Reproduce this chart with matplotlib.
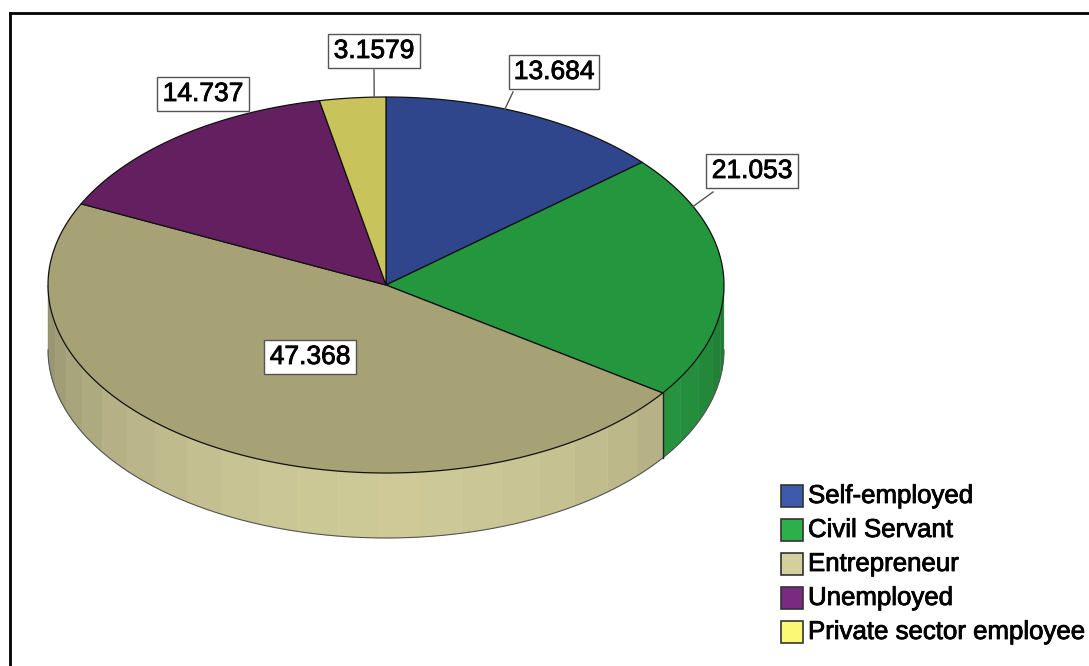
import numpy as np
import matplotlib.pyplot as plt
import matplotlib.patheffects as pe
from matplotlib.patches import Polygon, Rectangle
from matplotlib.colors import to_rgb

plt.rcParams['font.family'] = ['Liberation Sans', 'DejaVu Sans']

# Employment status shares (%)
categories = ["Self-employed", "Civil Servant", "Entrepreneur", "Unemployed",
              "Private sector employee"]
percents = [13.684, 21.053, 47.368, 14.737, 3.1579]
labels = ["13.684", "21.053", "47.368", "14.737", "3.1579"]

top_colors = ["#2F458C", "#24963E", "#A6A276", "#631F60", "#C8C35A"]
legend_colors = ["#3D5AAB", "#2DB04A", "#D4CF9C", "#7A2A80", "#FDF873"]

# pie geometry in pixel units
cx, cy = 386, 285
rx, ry = 338, 188
depth = 65

fig = plt.figure(figsize=(10.89, 6.66), dpi=100)
ax = fig.add_axes([0, 0, 1, 1])
ax.set_xlim(0, 1089)
ax.set_ylim(666, 0)
ax.axis("off")

heavy = [pe.withStroke(linewidth=0.6, foreground="black")]


def rim(t_deg):
    t = np.radians(t_deg)
    return cx + rx * np.cos(t), cy - ry * np.sin(t)


# wedge boundaries, clockwise from 12 o'clock
spans = np.array(percents) / sum(percents) * 360
starts = 90 - np.concatenate([[0], np.cumsum(spans)[:-1]])
ends = starts - spans

# side walls (only the front half is visible)
for s, e, col in zip(starts, ends, legend_colors):
    base = np.array(to_rgb(col))
    edges = np.arange(s, e, -7.0)
    edges = np.append(edges, e)
    for a0, a1 in zip(edges[:-1], edges[1:]):
        lo, hi = min(a0, a1), max(a0, a1)
        lo_n, hi_n = lo % 360, hi % 360
        if hi_n == 0:
            hi_n = 360
        if hi_n < lo_n:
            continue
        lo_c, hi_c = max(lo_n, 180), min(hi_n, 360)
        if hi_c <= lo_c:
            continue
        tt = np.linspace(lo_c, hi_c, 10)
        x, y = rim(tt)
        pts = np.column_stack([np.concatenate([x, x[::-1]]),
                               np.concatenate([y, (y + depth)[::-1]])])
        mid = np.radians((lo_c + hi_c) / 2)
        f = 0.68 + 0.29 * np.cos(mid - np.radians(270))
        c = np.clip(base * f, 0, 1)
        ax.add_patch(Polygon(pts, closed=True, facecolor=c, edgecolor=c,
                             linewidth=0.3, zorder=1))

# outline of the side bottom
tt = np.linspace(180, 360, 200)
x, y = rim(tt)
ax.plot(x, y + depth, color="#555555", linewidth=0.8, zorder=2)

# vertical seams where a wedge boundary falls on the front
for b in starts:
    bn = b % 360
    if 180 < bn < 360:
        x0, y0 = rim(bn)
        ax.plot([x0, x0], [y0, y0 + depth], color="#222222", linewidth=1.0,
                zorder=2)

# top face wedges
for s, e, col in zip(starts, ends, top_colors):
    tt = np.linspace(s, e, 120)
    x, y = rim(tt)
    pts = np.column_stack([np.concatenate([[cx], x]), np.concatenate([[cy], y])])
    ax.add_patch(Polygon(pts, closed=True, facecolor=col, edgecolor="#111111",
                         linewidth=0.9, zorder=3))

# value labels in boxes with leader lines
label_pos = [(554, 72), (752, 171), (310, 357), (203, 94), (374, 51)]
leader_angle = [69.4, 24.7, None, None, 92.0]
leader_from = [(513, 92), (713, 192), None, None, (374, 70)]
for txt, (lx, ly), la, lf in zip(labels, label_pos, leader_angle, leader_from):
    if la is not None:
        ex, ey = rim(la)
        ax.plot([lf[0], ex], [lf[1], ey], color="#555555", linewidth=1.0,
                zorder=4)
    t = ax.text(lx, ly, txt, fontsize=19, ha="center", va="center", zorder=5,
                bbox=dict(boxstyle="square,pad=0.2", facecolor="white",
                          edgecolor="#555555", linewidth=1.0))
    t.set_path_effects(heavy)

# legend
leg_x, leg_y0, leg_dy = 781, 496, 34
for i, (name, col) in enumerate(zip(categories, legend_colors)):
    yy = leg_y0 + i * leg_dy
    ax.add_patch(Rectangle((leg_x, yy - 11), 22, 22, facecolor=col,
                           edgecolor="#333333", linewidth=1.2, zorder=5))
    t = ax.text(leg_x + 27, yy, name, fontsize=18.6, ha="left", va="center",
                zorder=5)
    t.set_path_effects(heavy)

# frame lines on top and left
ax.plot([9.5, 1089], [12.5, 12.5], color="black", linewidth=2, zorder=6,
        solid_capstyle="projecting")
ax.plot([9.5, 9.5], [12.5, 666], color="black", linewidth=2, zorder=6)

fig.savefig("out.png", dpi=100)
